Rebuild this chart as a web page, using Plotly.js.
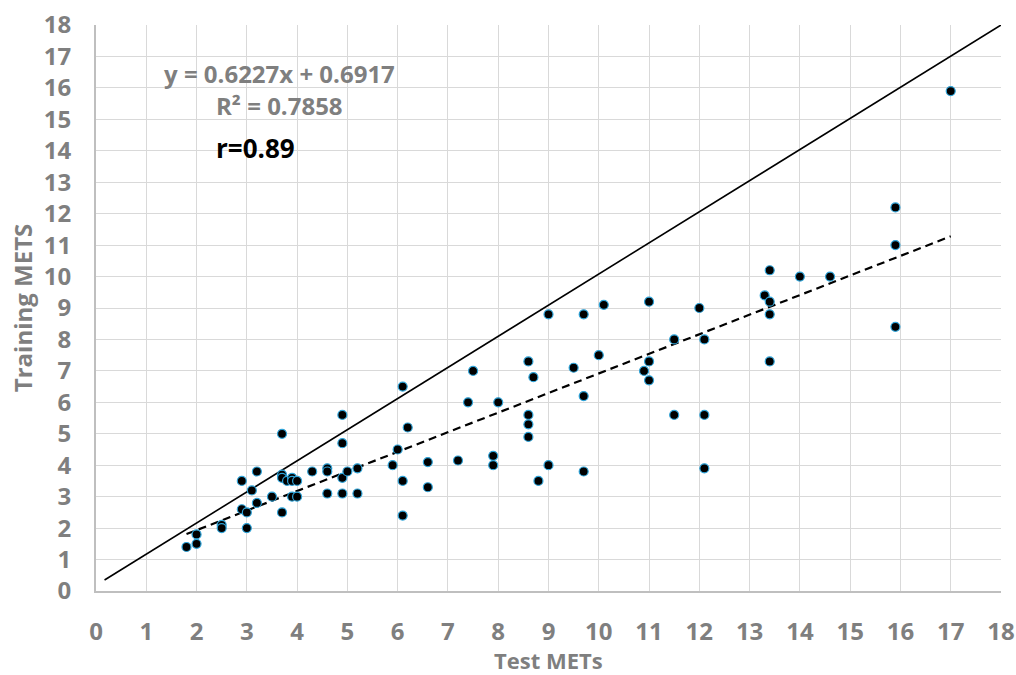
<!DOCTYPE html>
<html>
<head>
<meta charset="utf-8">
<script src="https://cdn.plot.ly/plotly-3.0.1.min.js"></script>
<style>html,body{margin:0;padding:0;background:#fff;}#chart{width:1016px;height:675px;}</style>
</head>
<body>
<div id="chart"></div>
<script>
var testMETs = [1.8,2,2,2.5,2.5,3,2.9,3,2.9,3.1,3.2,3.2,3.5,3.7,3.7,3.7,3.7,3.8,3.9,3.9,4.0,3.9,4.0,4.3,4.6,4.6,4.6,4.9,4.9,4.9,4.9,5.0,5.2,5.2,5.9,6.0,6.1,6.1,6.1,6.2,6.6,6.6,7.2,7.4,7.5,7.9,7.9,8.0,8.6,8.6,8.6,8.6,8.7,8.8,9.0,9.5,9.0,9.7,10.1,11.0,12.0,13.3,13.4,13.4,13.4,13.4,11.5,12.1,11.0,10.9,11.0,10.0,9.7,11.5,12.1,12.1,9.7,17.0,15.9,15.9,15.9,14.0,14.6];
var trainingMETs = [1.4,1.8,1.5,2.1,2.0,2.0,2.6,2.5,3.5,3.2,2.8,3.8,3.0,2.5,5.0,3.7,3.6,3.5,3.6,3.5,3.5,3.0,3.0,3.8,3.9,3.8,3.1,5.6,4.7,3.6,3.1,3.8,3.9,3.1,4.0,4.5,6.5,3.5,2.4,5.2,4.1,3.3,4.15,6.0,7.0,4.3,4.0,6.0,7.3,5.6,5.3,4.9,6.8,3.5,4.0,7.1,8.8,8.8,9.1,9.2,9.0,9.4,10.2,9.2,8.8,7.3,8.0,8.0,7.3,7.0,6.7,7.5,6.2,5.6,5.6,3.9,3.8,15.9,12.2,11.0,8.4,10.0,10.0];
var trendX = [1.8, 17];
var trendY = [1.81, 11.28];
var refX = [0.17, 18];
var refY = [0.35, 18];
var tickVals = [0,1,2,3,4,5,6,7,8,9,10,11,12,13,14,15,16,17,18];
var eqText = "y = 0.6227x + 0.6917";
var r2Text = "R² = 0.7858";
var rText = "r=0.89";
var xTitle = "Test METs";
var yTitle = "Training METS";

var FONT = "'Open Sans', Lato, sans-serif";
var GRAY = "#7f7f7f";

var traces = [
  {x: refX, y: refY, mode: "lines", type: "scatter", line: {color: "#000", width: 1.6}, hoverinfo: "skip", showlegend: false},
  {x: trendX, y: trendY, mode: "lines", type: "scatter", line: {color: "#000", width: 2.2, dash: "8px,5px"}, hoverinfo: "skip", showlegend: false},
  {x: testMETs, y: trainingMETs, mode: "markers", type: "scatter",
   marker: {color: "#000", size: 9, line: {color: "#2ea3d8", width: 1.2}}, showlegend: false}
];

var layout = {
  width: 1016, height: 675,
  margin: {l: 96, r: 15, t: 25, b: 84},
  paper_bgcolor: "#fff", plot_bgcolor: "#fff",
  font: {family: FONT, color: GRAY},
  xaxis: {
    range: [0, 18], tickvals: tickVals, ticktext: tickVals.map(String),
    showgrid: true, gridcolor: "#d9d9d9", gridwidth: 1,
    showline: true, linecolor: "#bfbfbf", linewidth: 2,
    zeroline: false, ticks: "", ticklabelstandoff: 18,
    tickfont: {family: FONT, size: 24, color: GRAY, weight: 700}
  },
  yaxis: {
    range: [0, 18], tickvals: tickVals, ticktext: tickVals.map(String),
    showgrid: true, gridcolor: "#d9d9d9", gridwidth: 1,
    showline: true, linecolor: "#bfbfbf", linewidth: 2,
    zeroline: false, ticks: "", ticklabelstandoff: 18,
    tickfont: {family: FONT, size: 24, color: GRAY, weight: 700},
    title: {text: yTitle, font: {family: FONT, size: 24, color: GRAY, weight: 700}, standoff: 4}
  },
  annotations: [
    {x: 0.5, y: -0.1219, xref: "paper", yref: "paper", yanchor: "middle", text: xTitle, showarrow: false,
     borderpad: 0, font: {family: FONT, size: 22, color: GRAY, weight: 700}},
    {x: 3.65, y: 16.45, xref: "x", yref: "y", text: eqText, showarrow: false,
     font: {family: FONT, size: 24, color: GRAY, weight: 700}},
    {x: 3.65, y: 15.45, xref: "x", yref: "y", text: r2Text, showarrow: false,
     font: {family: FONT, size: 24, color: GRAY, weight: 700}},
    {x: 3.17, y: 14.1, xref: "x", yref: "y", text: rText, showarrow: false,
     font: {family: FONT, size: 26, color: "#000", weight: 700}}
  ]
};

Plotly.newPlot("chart", traces, layout, {displayModeBar: false, staticPlot: true});
</script>
</body>
</html>
